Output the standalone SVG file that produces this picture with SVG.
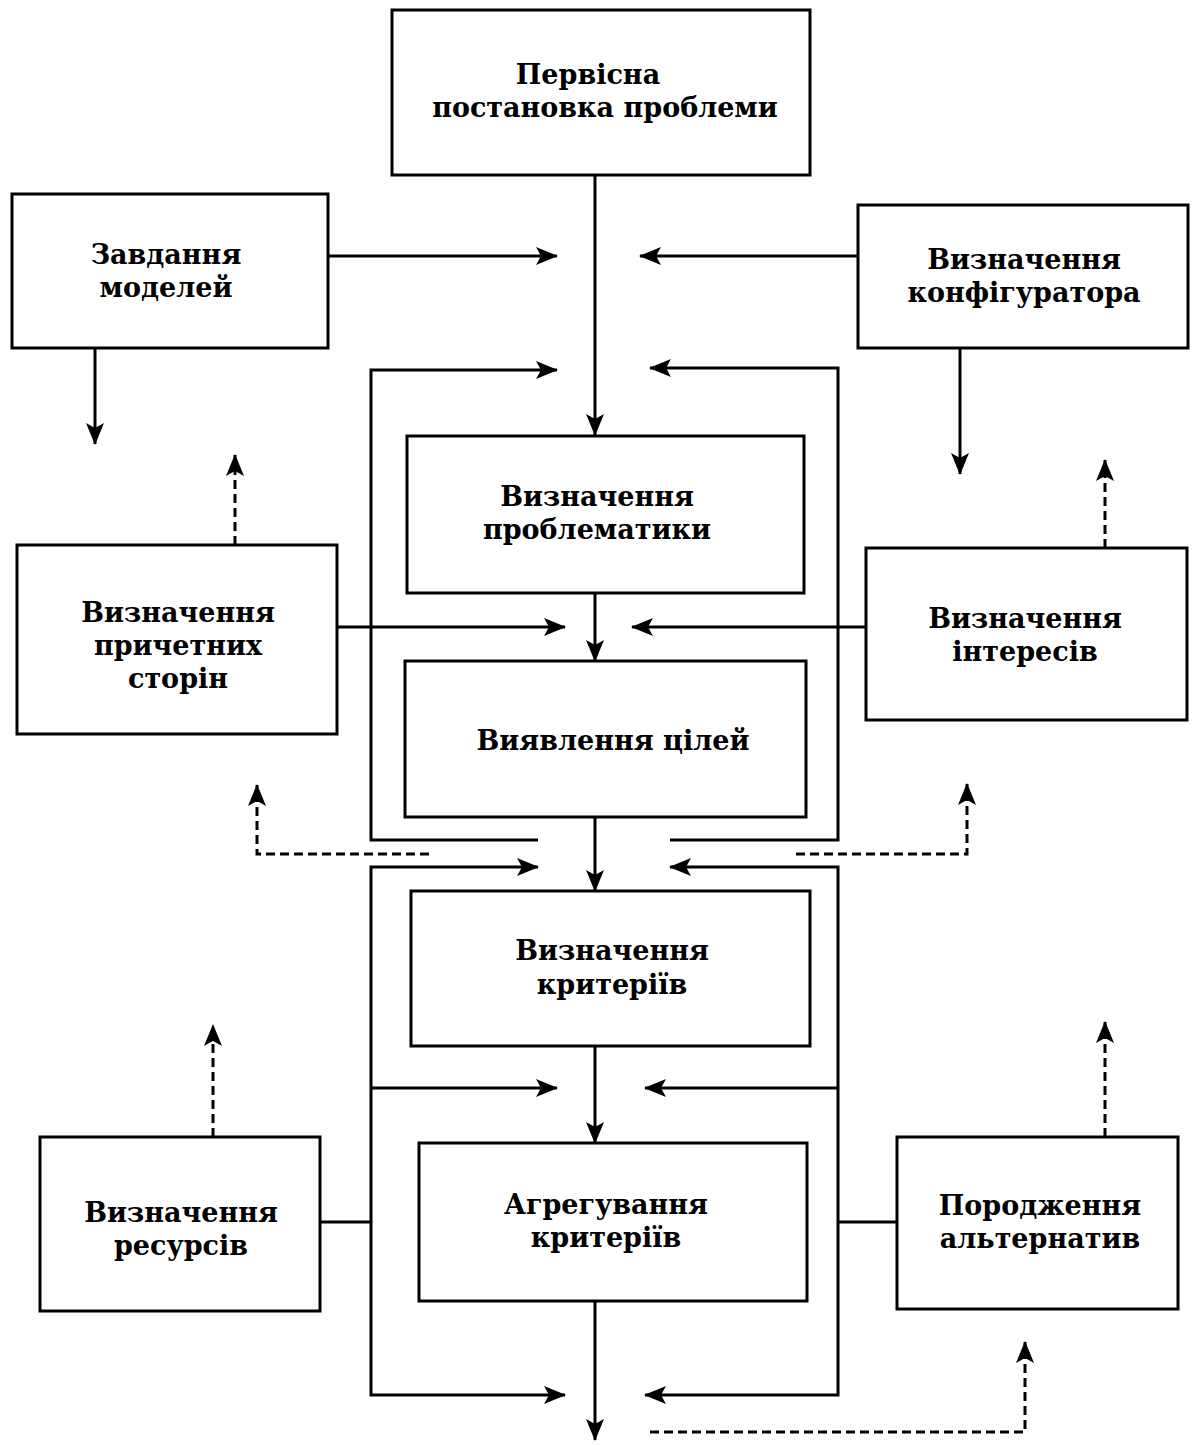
<svg xmlns="http://www.w3.org/2000/svg" width="1192" height="1445" viewBox="0 0 1192 1445">
  <style>
    .box { fill: #ffffff; stroke: #000000; stroke-width: 3; }
    .lbl { font-family: "DejaVu Serif", "Liberation Serif", serif; font-weight: bold; font-size: 27px; fill: #000000; text-anchor: middle; }
    .ln { fill: none; stroke: #000000; stroke-width: 3; }
    .arr { marker-end: url(#head); }
    .dash { fill: none; stroke: #000000; stroke-width: 3; stroke-dasharray: 9 5; marker-end: url(#head); }
  </style>
  <defs>
    <marker id="head" viewBox="0 0 22 18" refX="21" refY="9" markerWidth="22" markerHeight="18" markerUnits="userSpaceOnUse" orient="auto">
      <path d="M0,0 L22,9 L0,18 L5,9 z" fill="#000000"/>
    </marker>
  </defs>
  <rect width="1192" height="1445" fill="#ffffff"/>

  <g id="connectors">
    <!-- main vertical flow -->
    <line class="ln arr" x1="595" y1="175" x2="595" y2="435"/>
    <line class="ln arr" x1="595" y1="593" x2="595" y2="661"/>
    <line class="ln arr" x1="595" y1="817" x2="595" y2="891"/>
    <line class="ln arr" x1="595" y1="1046" x2="595" y2="1143"/>
    <line class="ln arr" x1="595" y1="1301" x2="595" y2="1440"/>

    <!-- inputs at top -->
    <line class="ln arr" x1="328" y1="256" x2="557" y2="256"/>
    <line class="ln arr" x1="858" y1="256" x2="640" y2="256"/>
    <line class="ln arr" x1="95" y1="348" x2="95" y2="444"/>
    <line class="ln arr" x1="960" y1="348" x2="960" y2="474"/>

    <!-- upper feedback loops -->
    <polyline class="ln arr" points="538,840 371,840 371,370 557,370"/>
    <polyline class="ln arr" points="670,840 838,840 838,368 650,368"/>

    <!-- side inputs into middle stage -->
    <line class="ln arr" x1="337" y1="627" x2="565" y2="627"/>
    <line class="ln arr" x1="866" y1="627" x2="632" y2="627"/>

    <!-- lower feedback loops -->
    <polyline class="ln arr" points="371,1088 371,867 538,867"/>
    <polyline class="ln arr" points="371,1088 371,1395 565,1395"/>
    <line class="ln arr" x1="371" y1="1088" x2="557" y2="1088"/>
    <polyline class="ln arr" points="838,1088 838,867 670,867"/>
    <polyline class="ln arr" points="838,1088 838,1395 645,1395"/>
    <line class="ln arr" x1="838" y1="1088" x2="645" y2="1088"/>

    <!-- side boxes attached to the lower loops -->
    <line class="ln" x1="320" y1="1222" x2="371" y2="1222"/>
    <line class="ln" x1="838" y1="1222" x2="897" y2="1222"/>

    <!-- dashed feedback -->
    <line class="dash" x1="235" y1="545" x2="235" y2="455"/>
    <line class="dash" x1="1105" y1="548" x2="1105" y2="460"/>
    <polyline class="dash" points="429,854 257,854 257,785"/>
    <polyline class="dash" points="796,854 967,854 967,784"/>
    <line class="dash" x1="213" y1="1137" x2="213" y2="1025"/>
    <line class="dash" x1="1105" y1="1137" x2="1105" y2="1022"/>
    <polyline class="dash" points="650,1432 1025,1432 1025,1342"/>
  </g>

  <g id="n-initial">
    <rect class="box" x="392" y="10" width="418" height="165"/>
    <text class="lbl" x="588" y="84">Первісна</text>
    <text class="lbl" x="605" y="117">постановка проблеми</text>
  </g>
  <g id="n-models">
    <rect class="box" x="12" y="194" width="316" height="154"/>
    <text class="lbl" x="166" y="264">Завдання</text>
    <text class="lbl" x="166" y="297">моделей</text>
  </g>
  <g id="n-configurator">
    <rect class="box" x="858" y="205" width="330" height="143"/>
    <text class="lbl" x="1024" y="269">Визначення</text>
    <text class="lbl" x="1024" y="302">конфігуратора</text>
  </g>
  <g id="n-problems">
    <rect class="box" x="407" y="436" width="397" height="157"/>
    <text class="lbl" x="597" y="506">Визначення</text>
    <text class="lbl" x="597" y="539">проблематики</text>
  </g>
  <g id="n-stakeholders">
    <rect class="box" x="17" y="545" width="320" height="189"/>
    <text class="lbl" x="178" y="622">Визначення</text>
    <text class="lbl" x="178" y="655">причетних</text>
    <text class="lbl" x="178" y="688">сторін</text>
  </g>
  <g id="n-interests">
    <rect class="box" x="866" y="548" width="321" height="172"/>
    <text class="lbl" x="1025" y="628">Визначення</text>
    <text class="lbl" x="1025" y="661">інтересів</text>
  </g>
  <g id="n-goals">
    <rect class="box" x="405" y="661" width="401" height="156"/>
    <text class="lbl" x="613" y="750">Виявлення цілей</text>
  </g>
  <g id="n-criteria">
    <rect class="box" x="411" y="891" width="399" height="155"/>
    <text class="lbl" x="612" y="960">Визначення</text>
    <text class="lbl" x="612" y="994">критеріїв</text>
  </g>
  <g id="n-resources">
    <rect class="box" x="40" y="1137" width="280" height="174"/>
    <text class="lbl" x="181" y="1222">Визначення</text>
    <text class="lbl" x="181" y="1255">ресурсів</text>
  </g>
  <g id="n-aggregation">
    <rect class="box" x="419" y="1143" width="388" height="158"/>
    <text class="lbl" x="606" y="1214">Агрегування</text>
    <text class="lbl" x="606" y="1247">критеріїв</text>
  </g>
  <g id="n-alternatives">
    <rect class="box" x="897" y="1137" width="281" height="172"/>
    <text class="lbl" x="1040" y="1215">Породження</text>
    <text class="lbl" x="1040" y="1248">альтернатив</text>
  </g>
</svg>
